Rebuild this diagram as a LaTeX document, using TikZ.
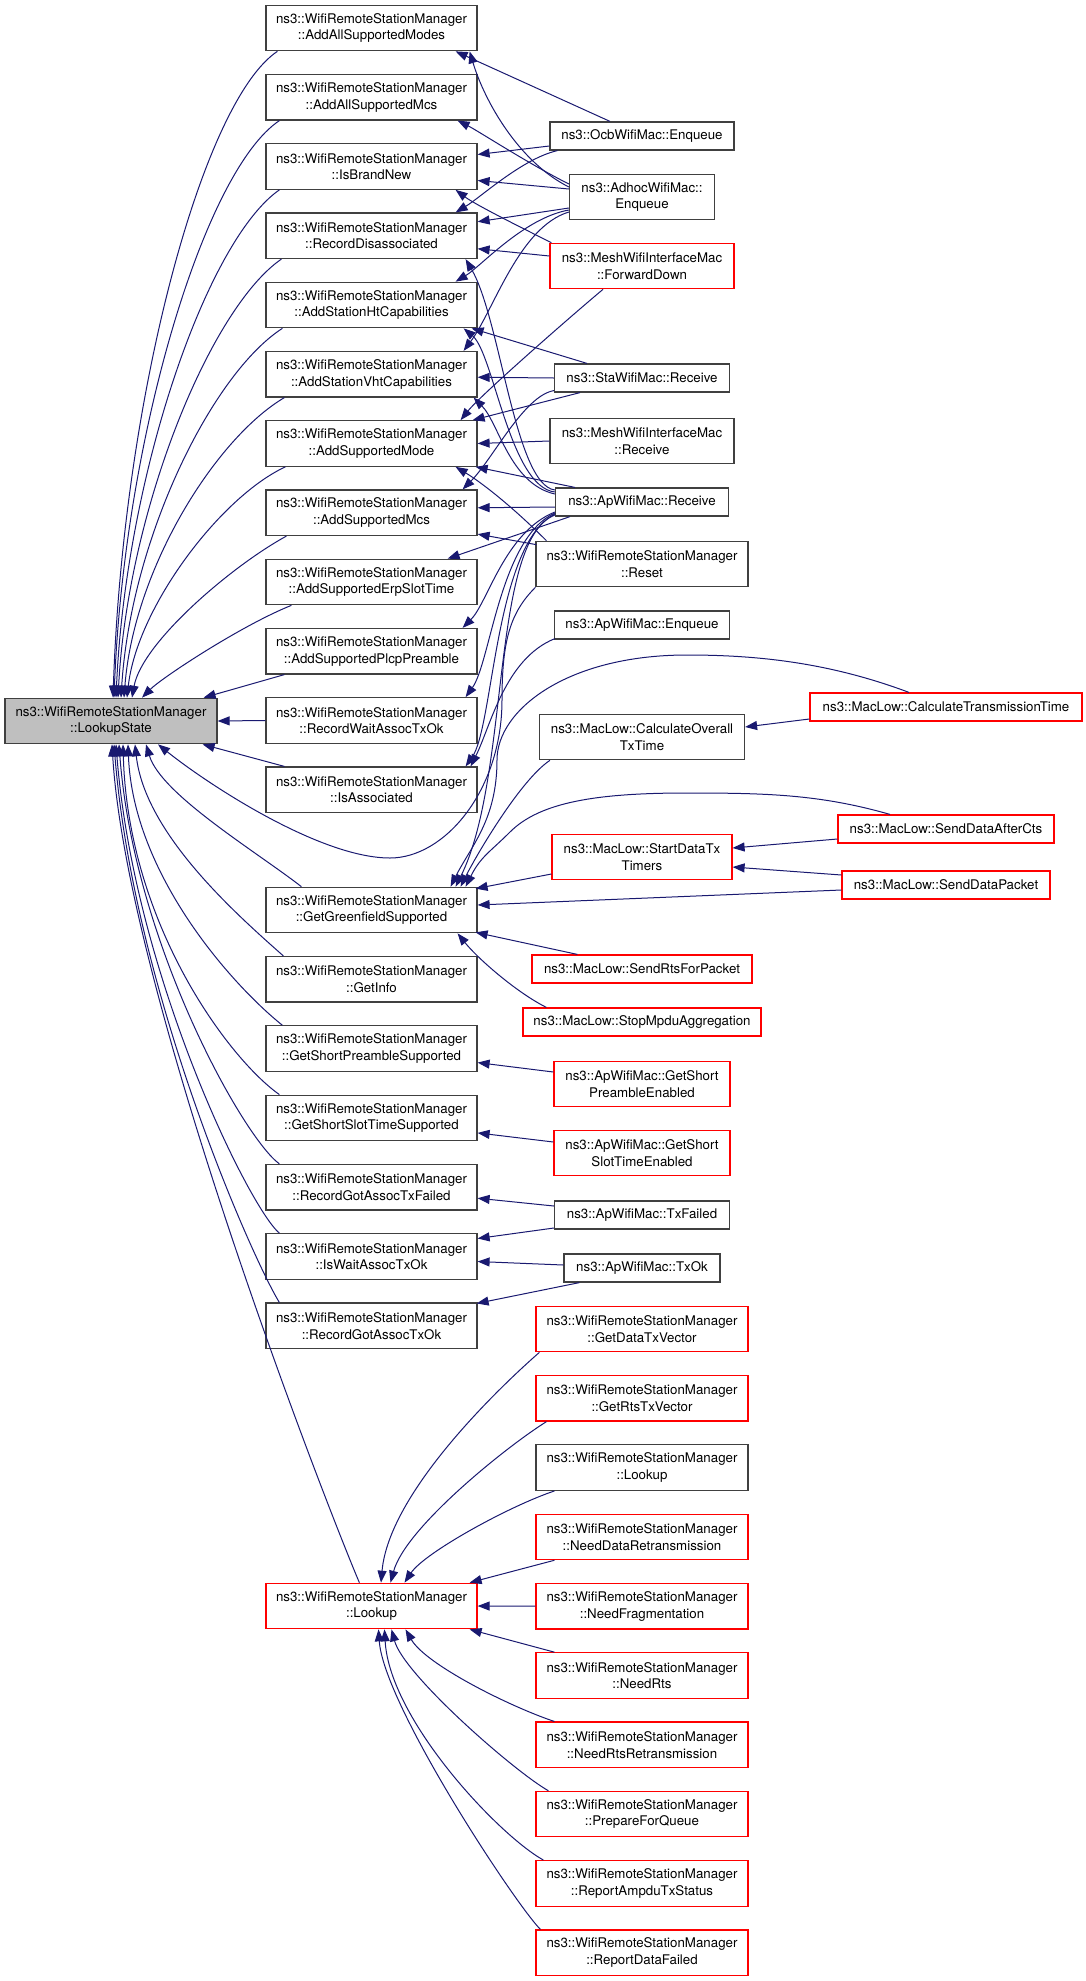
\documentclass[tikz,border=0pt]{standalone}
\usepackage{fontspec}
\setmainfont{TeX Gyre Heros}
\usetikzlibrary{arrows.meta,calc}
\definecolor{navy}{HTML}{191970}
\definecolor{bx}{HTML}{404040}
\definecolor{rbx}{HTML}{FF0000}
\definecolor{gfill}{HTML}{BFBFBF}
\tikzset{
  fn/.style={font=\fontsize{13.3}{16.7}\selectfont},
  bk/.style={draw=bx, line width=1.2pt, fill=white, inner sep=0pt, align=center, fn},
  rd/.style={bk, draw=rbx},
  hA/.style={minimum height=28pt},
  hB/.style={minimum height=45.5pt},
  cw/.style={minimum width=211pt},
  cl/.style={draw=navy, line width=1pt, -{Triangle[length=12pt,width=9pt]}},
}
\begin{document}
\begin{tikzpicture}[x=1pt,y=-1pt]
\useasboundingbox (0,0) rectangle (1085,1981);
% ---------- column 1
\node[bk, fill=gfill, hB, minimum width=212pt] (ls) at (111,721) {ns3::WifiRemoteStationManager\\::LookupState};
% ---------- column 2
\node[bk,hB,cw] (m1) at (371.5,28) {ns3::WifiRemoteStationManager\\::AddAllSupportedModes};
\node[bk,hB,cw] (m2) at (371.5,97.25) {ns3::WifiRemoteStationManager\\::AddAllSupportedMcs};
\node[bk,hB,cw] (m3) at (371.5,166.5) {ns3::WifiRemoteStationManager\\::IsBrandNew};
\node[bk,hB,cw] (m4) at (371.5,235.75) {ns3::WifiRemoteStationManager\\::RecordDisassociated};
\node[bk,hB,cw] (m5) at (371.5,305) {ns3::WifiRemoteStationManager\\::AddStationHtCapabilities};
\node[bk,hB,cw] (m6) at (371.5,374.25) {ns3::WifiRemoteStationManager\\::AddStationVhtCapabilities};
\node[bk,hB,cw] (m7) at (371.5,443.5) {ns3::WifiRemoteStationManager\\::AddSupportedMode};
\node[bk,hB,cw] (m8) at (371.5,512.75) {ns3::WifiRemoteStationManager\\::AddSupportedMcs};
\node[bk,hB,cw] (m9) at (371.5,582) {ns3::WifiRemoteStationManager\\::AddSupportedErpSlotTime};
\node[bk,hB,cw] (m10) at (371.5,651.25) {ns3::WifiRemoteStationManager\\::AddSupportedPlcpPreamble};
\node[bk,hB,cw] (m11) at (371.5,720.5) {ns3::WifiRemoteStationManager\\::RecordWaitAssocTxOk};
\node[bk,hB,cw] (m12) at (371.5,789.75) {ns3::WifiRemoteStationManager\\::IsAssociated};
\node[bk,hB,cw] (m13) at (371.5,910) {ns3::WifiRemoteStationManager\\::GetGreenfieldSupported};
\node[bk,hB,cw] (m14) at (371.5,979.3) {ns3::WifiRemoteStationManager\\::GetInfo};
\node[bk,hB,cw] (m15) at (371.5,1048.6) {ns3::WifiRemoteStationManager\\::GetShortPreambleSupported};
\node[bk,hB,cw] (m16) at (371.5,1117.9) {ns3::WifiRemoteStationManager\\::GetShortSlotTimeSupported};
\node[bk,hB,cw] (m17) at (371.5,1187.2) {ns3::WifiRemoteStationManager\\::RecordGotAssocTxFailed};
\node[bk,hB,cw] (m18) at (371.5,1256.5) {ns3::WifiRemoteStationManager\\::IsWaitAssocTxOk};
\node[bk,hB,cw] (m19) at (371.5,1325.8) {ns3::WifiRemoteStationManager\\::RecordGotAssocTxOk};
\node[rd,hB,cw] (m20) at (371.5,1606) {ns3::WifiRemoteStationManager\\::Lookup};
% ---------- column 3
\node[bk,hA,minimum width=184pt] (ocb) at (642,136) {ns3::OcbWifiMac::Enqueue};
\node[bk,hB,minimum width=145pt] (adhoc) at (642,197) {ns3::AdhocWifiMac::\\Enqueue};
\node[rd,hB,minimum width=184pt] (meshfd) at (642,266) {ns3::MeshWifiInterfaceMac\\::ForwardDown};
\node[bk,hA,minimum width=175pt] (sta) at (642,378) {ns3::StaWifiMac::Receive};
\node[bk,hB,minimum width=184pt] (meshrx) at (642,441) {ns3::MeshWifiInterfaceMac\\::Receive};
\node[bk,hA,minimum width=173pt] (aprx) at (642,502) {ns3::ApWifiMac::Receive};
\node[bk,hB,minimum width=212pt] (reset) at (642,564) {ns3::WifiRemoteStationManager\\::Reset};
\node[bk,hA,minimum width=175pt] (apenq) at (642,625) {ns3::ApWifiMac::Enqueue};
\node[bk,hB,minimum width=205pt] (calcov) at (642,737) {ns3::MacLow::CalculateOverall\\TxTime};
\node[rd,hB,minimum width=180pt] (startdt) at (642,857) {ns3::MacLow::StartDataTx\\Timers};
\node[rd,hA,minimum width=220pt] (srts) at (642,969) {ns3::MacLow::SendRtsForPacket};
\node[rd,hA,minimum width=238pt] (stopm) at (642,1022) {ns3::MacLow::StopMpduAggregation};
\node[rd,hB,minimum width=176pt] (gspe) at (642,1084) {ns3::ApWifiMac::GetShort\\PreambleEnabled};
\node[rd,hB,minimum width=176pt] (gsste) at (642,1153) {ns3::ApWifiMac::GetShort\\SlotTimeEnabled};
\node[bk,hA,minimum width=175pt] (txf) at (642,1215) {ns3::ApWifiMac::TxFailed};
\node[bk,hA,minimum width=156pt] (txok) at (642,1268) {ns3::ApWifiMac::TxOk};
\node[rd,hB,minimum width=212pt] (gdtv) at (642,1329) {ns3::WifiRemoteStationManager\\::GetDataTxVector};
\node[rd,hB,minimum width=212pt] (grtv) at (642,1398.3) {ns3::WifiRemoteStationManager\\::GetRtsTxVector};
\node[bk,hB,minimum width=212pt] (lk) at (642,1467.6) {ns3::WifiRemoteStationManager\\::Lookup};
\node[rd,hB,minimum width=212pt] (ndr) at (642,1536.9) {ns3::WifiRemoteStationManager\\::NeedDataRetransmission};
\node[rd,hB,minimum width=212pt] (nf) at (642,1606.2) {ns3::WifiRemoteStationManager\\::NeedFragmentation};
\node[rd,hB,minimum width=212pt] (nr) at (642,1675.5) {ns3::WifiRemoteStationManager\\::NeedRts};
\node[rd,hB,minimum width=212pt] (nrr) at (642,1744.8) {ns3::WifiRemoteStationManager\\::NeedRtsRetransmission};
\node[rd,hB,minimum width=212pt] (pfq) at (642,1814.1) {ns3::WifiRemoteStationManager\\::PrepareForQueue};
\node[rd,hB,minimum width=212pt] (rats) at (642,1883.4) {ns3::WifiRemoteStationManager\\::ReportAmpduTxStatus};
\node[rd,hB,minimum width=212pt] (rdf) at (642,1952.7) {ns3::WifiRemoteStationManager\\::ReportDataFailed};
% ---------- column 4
\node[rd,hA,minimum width=272pt] (calctr) at (946,707) {ns3::MacLow::CalculateTransmissionTime};
\node[rd,hA,minimum width=216pt] (sdac) at (946,829) {ns3::MacLow::SendDataAfterCts};
\node[rd,hA,minimum width=208pt] (sdp) at (946,885) {ns3::MacLow::SendDataPacket};

% ========== edges into LookupState
\draw[cl] ($(m1.south west)+(12,0)$) .. controls +(-75,50) and +(10,-300) .. ($(ls.north)+(2,0)$);
\draw[cl] ($(m2.south west)+(14,0)$) .. controls +(-75,50) and +(10,-260) .. ($(ls.north)+(3,0)$);
\draw[cl] ($(m3.south west)+(14,0)$) .. controls +(-72,50) and +(10,-225) .. ($(ls.north)+(5,0)$);
\draw[cl] ($(m4.south west)+(16,0)$) .. controls +(-70,48) and +(10,-190) .. ($(ls.north)+(7,0)$);
\draw[cl] ($(m5.south west)+(17,0)$) .. controls +(-70,45) and +(10,-160) .. ($(ls.north)+(10,0)$);
\draw[cl] ($(m6.south west)+(19,0)$) .. controls +(-68,40) and +(10,-130) .. ($(ls.north)+(13,0)$);
\draw[cl] ($(m7.south west)+(20,0)$) .. controls +(-65,30) and +(10,-90) .. ($(ls.north)+(16,0)$);
\draw[cl] ($(m8.south west)+(21,0)$) .. controls +(-55,30) and +(10,-55) .. ($(ls.north)+(21,0)$);
\draw[cl] ($(m9.south west)+(26,0)$) .. controls +(-50,20) and +(20,-20) .. ($(ls.north)+(31,0)$);
\draw[cl] ($(m10.south west)+(19,0)$) -- ($(ls.north east)+(-14,0)$);
\draw[cl] (m11.west) -- (ls.east);
\draw[cl] ($(m12.north west)+(19,0)$) -- ($(ls.south east)+(-15,0)$);
\draw[cl] (reset.south west) .. controls +(-25,25) and +(0,-60) .. (502,700)
          .. controls +(0,90) and +(55,0) .. (390,858)
          .. controls +(-70,0) and +(50,40) .. ($(ls.south)+(47,0)$);
\draw[cl] ($(m13.north west)+(36,0)$) .. controls +(-45,-35) and +(15,50) .. ($(ls.south)+(35,0)$);
\draw[cl] ($(m14.north west)+(18,0)$) .. controls +(-45,-40) and +(10,90) .. ($(ls.south)+(24,0)$);
\draw[cl] ($(m15.north west)+(17,0)$) .. controls +(-50,-40) and +(5,130) .. ($(ls.south)+(17,0)$);
\draw[cl] ($(m16.north west)+(14,0)$) .. controls +(-50,-35) and +(5,180) .. ($(ls.south)+(12,0)$);
\draw[cl] ($(m17.north west)+(14,0)$) .. controls +(-35,-25) and +(15,200) .. ($(ls.south)+(8,0)$);
\draw[cl] ($(m18.north west)+(14,0)$) .. controls +(-30,-25) and +(18,230) .. ($(ls.south)+(5,0)$);
\draw[cl] ($(m19.north west)+(14,0)$) .. controls +(-25,-40) and +(20,250) .. ($(ls.south)+(3,0)$);
\draw[cl] ($(m20.north west)+(94,0)$) .. controls +(-30,-70) and +(15,250) .. ($(ls.south)+(1,0)$);

% ========== column 3 -> column 2
% AddAllSupportedModes
\draw[cl] ($(ocb.north)+(-32,0)$) -- ($(m1.south east)+(-22,0)$);
\draw[cl] ($(adhoc.west)+(0,-10)$) .. controls +(-50,-25) and +(15,50) .. ($(m1.south east)+(-8,0)$);
% AddAllSupportedMcs
\draw[cl] ($(adhoc.west)+(0,-13)$) .. controls +(-40,-20) and +(20,10) .. ($(m2.south east)+(-20,0)$);
% IsBrandNew
\draw[cl] ($(ocb.west)+(0,10)$) -- ($(m3.east)+(0,-12)$);
\draw[cl] ($(adhoc.west)+(0,-8)$) -- ($(m3.east)+(0,14)$);
\draw[cl] ($(meshfd.north west)+(2,0)$) .. controls +(-30,-15) and +(20,15) .. ($(m3.south east)+(-22,0)$);
% RecordDisassociated
\draw[cl] ($(ocb.south west)+(8,0)$) .. controls +(-35,8) and +(25,-15) .. ($(m4.north east)+(-22,0)$);
\draw[cl] ($(adhoc.west)+(0,11)$) -- ($(m4.east)+(0,-14)$);
\draw[cl] ($(meshfd.west)+(0,-10)$) -- ($(m4.east)+(0,13)$);
\draw[cl] ($(aprx.west)+(0,-12)$) .. controls +(-40,-5) and +(35,60) .. ($(m4.south east)+(-12,0)$);
% AddStationHtCapabilities
\draw[cl] ($(adhoc.west)+(0,13)$) .. controls +(-45,8) and +(25,-15) .. ($(m5.north east)+(-22,0)$);
\draw[cl] ($(sta.north)+(-55,0)$) -- ($(m5.south east)+(-6,0)$);
\draw[cl] ($(aprx.west)+(0,-10)$) .. controls +(-45,-5) and +(30,25) .. ($(m5.south east)+(-14,0)$);
% AddStationVhtCapabilities
\draw[cl] ($(adhoc.west)+(0,15)$) .. controls +(-50,15) and +(30,-40) .. ($(m6.north east)+(-14,0)$);
\draw[cl] (sta.west) -- ($(m6.east)+(0,3)$);
\draw[cl] ($(aprx.west)+(0,-8)$) .. controls +(-45,-10) and +(25,25) .. ($(m6.south east)+(-4,0)$);
% AddSupportedMode
\draw[cl] ($(meshfd.south)+(-39,0)$) .. controls +(-30,25) and +(20,-25) .. ($(m7.north east)+(-17,0)$);
\draw[cl] ($(sta.south)+(-62,0)$) -- ($(m7.north east)+(-5,0)$);
\draw[cl] (meshrx.west) -- (m7.east);
\draw[cl] ($(aprx.north west)+(20,0)$) -- ($(m7.south east)+(-2,0)$);
\draw[cl] ($(reset.north west)+(11,0)$) .. controls +(-35,-35) and +(25,15) .. ($(m7.south east)+(-22,0)$);
% AddSupportedMcs
\draw[cl] ($(sta.south west)+(0,-2)$) .. controls +(-30,5) and +(30,-30) .. ($(m8.north east)+(-15,0)$);
\draw[cl] ($(aprx.west)+(0,5)$) -- ($(m8.east)+(0,-5)$);
\draw[cl] ($(reset.north west)+(1,4)$) -- ($(m8.south east)+(0,-2)$);
% AddSupportedErpSlotTime
\draw[cl] ($(aprx.south)+(-72,0)$) -- ($(m9.north east)+(-30,0)$);
% AddSupportedPlcpPreamble
\draw[cl] ($(aprx.west)+(0,10)$) .. controls +(-50,20) and +(25,-25) .. ($(m10.north east)+(-15,0)$);
% RecordWaitAssocTxOk
\draw[cl] ($(aprx.west)+(0,11)$) .. controls +(-55,25) and +(25,-35) .. ($(m11.north east)+(-12,0)$);
% IsAssociated
\draw[cl] ($(aprx.west)+(0,12)$) .. controls +(-60,30) and +(28,-40) .. ($(m12.north east)+(-12,0)$);
\draw[cl] ($(apenq.south west)+(1,-1)$) .. controls +(-50,20) and +(20,-40) .. ($(m12.north east)+(-7,0)$);
% GetGreenfieldSupported
\draw[cl] ($(aprx.west)+(0,13)$) .. controls +(-65,25) and +(55,-110) .. ($(m13.north east)+(-22,0)$);
\draw[cl] ($(calcov.south west)+(11,0)$) .. controls +(-30,20) and +(15,-30) .. ($(m13.north east)+(-17,0)$);
\draw[cl] ($(calctr.north)+(-37,0)$) .. controls +(-80,-30) and +(70,0) .. (687,655)
          .. controls +(-120,0) and +(0,-50) .. (497,760)
          .. controls +(0,60) and +(20,-40) .. ($(m13.north east)+(-27,0)$);
\draw[cl] ($(sdac.north)+(-56,0)$) .. controls +(-70,-20) and +(80,0) .. (687,793)
          .. controls +(-90,0) and +(30,-30) .. (510,832)
          .. controls +(-20,20) and +(15,-30) .. ($(m13.north east)+(-12,0)$);
\draw[cl] ($(startdt.west)+(0,17)$) -- ($(m13.north east)+(-2,2)$);
\draw[cl] ($(sdp.west)+(0,5)$) -- ($(m13.east)+(0,-5)$);
\draw[cl] ($(srts.north west)+(46,0)$) -- ($(m13.south east)+(-2,-1)$);
\draw[cl] ($(stopm.north west)+(24,0)$) .. controls +(-30,-15) and +(20,25) .. ($(m13.south east)+(-20,0)$);
% column 4 -> column 3
\draw[cl] ($(calctr.west)+(0,12)$) -- ($(calcov.east)+(0,-10)$);
\draw[cl] ($(sdac.west)+(0,10)$) -- ($(startdt.east)+(0,-9)$);
\draw[cl] ($(sdp.west)+(0,-10)$) -- ($(startdt.east)+(0,10)$);
% lower column 3 -> column 2
\draw[cl] ($(gspe.west)+(0,-12)$) -- ($(m15.east)+(0,14)$);
\draw[cl] ($(gsste.west)+(0,-11)$) -- ($(m16.east)+(0,15)$);
\draw[cl] ($(txf.west)+(0,-9)$) -- ($(m17.east)+(0,11)$);
\draw[cl] ($(txf.west)+(0,13)$) -- ($(m18.east)+(0,-18)$);
\draw[cl] ($(txok.west)+(0,-3)$) -- ($(m18.east)+(0,5)$);
\draw[cl] ($(txok.south west)+(16,0)$) -- ($(m19.north east)+(-1,1)$);
% callers of Lookup
\draw[cl] ($(gdtv.south west)+(4,0)$) .. controls +(-40,35) and +(8,-90) .. ($(m20.north)+(9.5,0)$);
\draw[cl] ($(grtv.south west)+(11,0)$) .. controls +(-40,25) and +(15,-55) .. ($(m20.north)+(19,0)$);
\draw[cl] ($(lk.south west)+(19,0)$) .. controls +(-45,15) and +(20,-30) .. ($(m20.north)+(33,0)$);
\draw[cl] ($(ndr.south west)+(19,0)$) -- ($(m20.north east)+(-8,0)$);
\draw[cl] (nf.west) -- (m20.east);
\draw[cl] ($(nr.north west)+(19,0)$) -- ($(m20.south east)+(-8,0)$);
\draw[cl] ($(nrr.north west)+(19,0)$) .. controls +(-45,-15) and +(20,35) .. ($(m20.south)+(34,0)$);
\draw[cl] ($(pfq.north west)+(13,0)$) .. controls +(-35,-20) and +(12,45) .. ($(m20.south)+(20,0)$);
\draw[cl] ($(rats.north west)+(8,0)$) .. controls +(-45,-25) and +(5,90) .. ($(m20.south)+(13,0)$);
\draw[cl] ($(rdf.north west)+(5,0)$) .. controls +(-25,-25) and +(5,75) .. ($(m20.south)+(7,0)$);
\end{tikzpicture}
\end{document}
